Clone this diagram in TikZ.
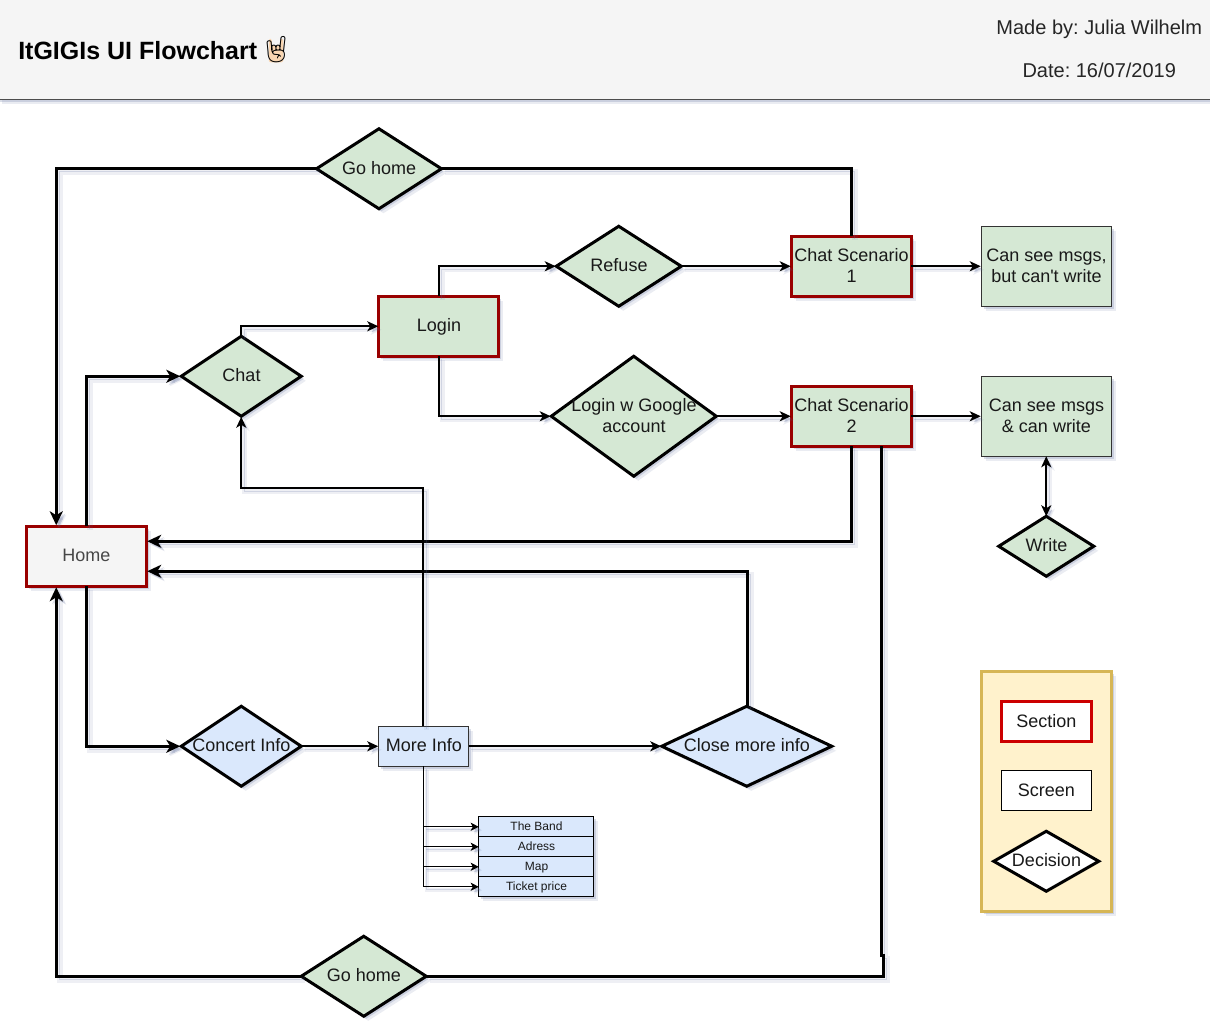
\documentclass[tikz,border=0pt]{standalone}
\usepackage{fontspec}
\setmainfont{Liberation Sans}
\newfontfamily\plainfont{Liberation Sans}
\newfontfamily\emojifont{Noto Emoji}
\usetikzlibrary{shapes.geometric,shadows,arrows.meta,calc}
\definecolor{shadowc}{HTML}{5A6A9A}
\definecolor{grn}{HTML}{D5E8D4}
\definecolor{blu}{HTML}{DAE8FC}
\definecolor{ylw}{HTML}{FFF2CC}
\definecolor{ylwb}{HTML}{D6B656}
\definecolor{hdr}{HTML}{F5F5F5}
\definecolor{secr}{HTML}{990000}
\definecolor{legr}{HTML}{CC0000}
\frenchspacing
\newcommand{\dt}[1]{\makebox[0pt]{\hspace{.5pt}\raisebox{-.65em}{\smash{\begin{tabular}[c]{@{}c@{}}#1\end{tabular}}}}}
\tikzset{
  soft/.style={
    drop shadow={shadow xshift=4.5pt,shadow yshift=-4.5pt,fill=shadowc,opacity=.12},
    drop shadow={shadow xshift=2.5pt,shadow yshift=-2.5pt,fill=shadowc,opacity=.22}},
  base/.style={inner sep=0pt,outer sep=0pt,font=\fontsize{18}{21}\selectfont,text=black!90},
  dec/.style 2 args={base,shape=diamond,draw=black,line width=3pt,minimum width=#1,minimum height=#2,soft},
  rct/.style 2 args={base,shape=rectangle,minimum width=#1,minimum height=#2},
  section/.style={rct={120pt}{60pt},draw=secr,line width=3pt,soft},
  screenbox/.style={rct={130pt}{80pt},draw=black!80,line width=1pt,fill=grn,soft},
  rowbox/.style={rct={115pt}{20pt},draw=black,line width=1pt,fill=blu,soft,font=\fontsize{12}{14}\selectfont},
  tipH/.style={-{Stealth[length=14pt,width=13pt,inset=4pt]},shorten >=1pt},
  tipM/.style={-{Stealth[length=11pt,width=10pt,inset=3pt]},shorten >=.5pt},
  tipF/.style={-{Stealth[length=8pt,width=8pt,inset=2pt]}},
  eshadow/.style={
    preaction={draw=shadowc,opacity=.10,line width=\pgflinewidth+1.5pt,transform canvas={shift={(3.5pt,-3.5pt)}}},
    preaction={draw=shadowc,opacity=.20,transform canvas={shift={(2.5pt,-2.5pt)}}}},
  heavy/.style={line width=3pt,eshadow},
  medium/.style={line width=2pt,eshadow},
  fine/.style={line width=1pt,eshadow},
}
\begin{document}
\begin{tikzpicture}[x=1pt,y=-1pt]
\useasboundingbox (0,0) rectangle (1210,1029);
\fill[white] (0,0) rectangle (1210,1029);
\begin{scope}[xshift=-.25pt,yshift=.25pt]
% header
\node[base,shape=rectangle,minimum width=1214pt,minimum height=100pt,fill=hdr,draw=black!70,line width=1pt,soft] (header) at (605,49.5) {};
\node[base,anchor=base west,font=\fontsize{25}{28}\bfseries\selectfont,text=black] (title) at (18.5,59.5) {ItGIGIs UI Flowchart};
\fill[orange!25!white!90!brown,rounded corners=2pt] (269,39) -- (269,62.5) -- (283.5,62.5) -- (283.5,39) -- (280.5,39) -- (280.5,46) -- (272,46) -- (272,39) -- cycle;
\node[base,font=\fontsize{26}{28}\emojifont,text=black] (emoji) at (276.5,50) {\char"1F918};
\node[base,font=\fontsize{20}{24}\selectfont,text=black!85] (madeby) at (1099.5,30) {Made by: Julia Wilhelm};
\node[base,font=\fontsize{20}{24}\selectfont,text=black!85] (dateline) at (1099.5,70.5) {Date: 16/07/2019};

% green flow
\node[dec={125pt}{80pt},fill=grn] (gotop) at (379.2,169) {\dt{Go home}};
\node[section,fill=grn] (cs1) at (851.5,266.5) {\dt{Chat Scenario\\1}};
\node[screenbox] (see1) at (1046.5,266.5) {\dt{Can see msgs,\\but can{\plainfont\char"27}t write}};
\node[dec={125pt}{80pt},fill=grn] (refuse) at (619,266.5) {\dt{Refuse}};
\node[section,fill=grn] (login) at (439,326.5) {\dt{Login}};
\node[dec={120pt}{80pt},fill=grn] (chat) at (241.5,376.5) {\dt{Chat}};
\node[dec={165pt}{120pt},fill=grn] (google) at (634,416.5) {\dt{Login w Google\\account}};
\node[section,fill=grn] (cs2) at (851.5,416.5) {\dt{Chat Scenario\\2}};
\node[screenbox] (see2) at (1046.5,416.5) {\dt{Can see msgs\\\& can write}};
\node[dec={95pt}{60pt},fill=grn] (write) at (1046.5,546.5) {\dt{Write}};

% home
\node[section,fill=hdr,text=black!72] (home) at (86.5,556.5) {\dt{Home}};

% blue flow
\node[dec={120pt}{80pt},fill=blu] (concert) at (241.5,746.5) {\dt{Concert Info}};
\node[rct={90pt}{40pt},draw=black!80,line width=1pt,fill=blu,soft] (more) at (424,746.5) {\dt{More Info}};
\node[dec={170pt}{80pt},fill=blu] (close) at (747,746.5) {\dt{Close more info}};
\node[rowbox] (band) at (536.5,827) {\dt{The Band}};
\node[rowbox] (adress) at (536.5,847) {\dt{Adress}};
\node[rowbox] (map) at (536.5,867) {\dt{Map}};
\node[rowbox] (ticket) at (536.5,887) {\dt{Ticket price}};
\node[dec={125pt}{80pt},fill=grn] (gobot) at (364,976.5) {\dt{Go home}};

% legend
\node[rct={130pt}{240pt},draw=ylwb,line width=3pt,fill=ylw,soft] (legend) at (1046.5,792) {};
\node[rct={90pt}{40pt},draw=legr,line width=3pt,fill=white] (legsec) at (1046.3,722) {\dt{Section}};
\node[rct={90pt}{40pt},draw=black,line width=1pt,fill=white] (legscr) at (1046.3,791) {\dt{Screen}};
\node[base,shape=diamond,draw=black,line width=3pt,minimum width=105pt,minimum height=60pt,fill=white] (legdec) at (1046.5,861.5) {\dt{Decision}};

% connectors
\draw[heavy,tipH] (gotop.west) -| ([xshift=-30pt]home.north);
\draw[heavy] (cs1.north) |- (gotop.east);
\draw[medium,tipM] (login.north) |- (refuse.west);
\draw[medium,tipM] (refuse.east) -- (cs1.west);
\draw[medium,tipM] (cs1.east) -- (see1.west);
\draw[medium,tipM] (login.south) |- (google.west);
\draw[medium,tipM] (google.east) -- (cs2.west);
\draw[medium,tipM] (cs2.east) -- (see2.west);
\draw[medium,{Stealth[length=11pt,width=10pt,inset=3pt]}-{Stealth[length=11pt,width=10pt,inset=3pt]}] (see2.south) -- (write.north);
\draw[medium,tipM] (chat.north) |- (login.west);
\draw[heavy,tipH] (home.north) |- (chat.west);
\draw[heavy,tipH] (cs2.south) |- ([yshift=15pt]home.east);
\draw[heavy] ([xshift=-30pt]cs2.south east) -- ++(0,509) -- ++(2,0) |- (gobot.east);
\draw[heavy,tipH] (gobot.west) -| ([xshift=-30pt]home.south);
\draw[heavy,tipH] (home.south) |- (concert.west);
\draw[medium,tipM] (concert.east) -- (more.west);
\draw[medium,tipM] (more.east) -- (close.west);
\draw[heavy,tipH] ([xshift=.8pt]close.north) |- ([yshift=-15pt]home.east);
\draw[medium,tipM] ([xshift=-.5pt]more.north) -- ++(0,-238) -| (chat.south);
\draw[fine,tipF] (more.south) |- (ticket.west);
\draw[fine,tipF] (more.south |- band.west) -- (band.west);
\draw[fine,tipF] (more.south |- adress.west) -- (adress.west);
\draw[fine,tipF] (more.south |- map.west) -- (map.west);
\end{scope}
\end{tikzpicture}
\end{document}
